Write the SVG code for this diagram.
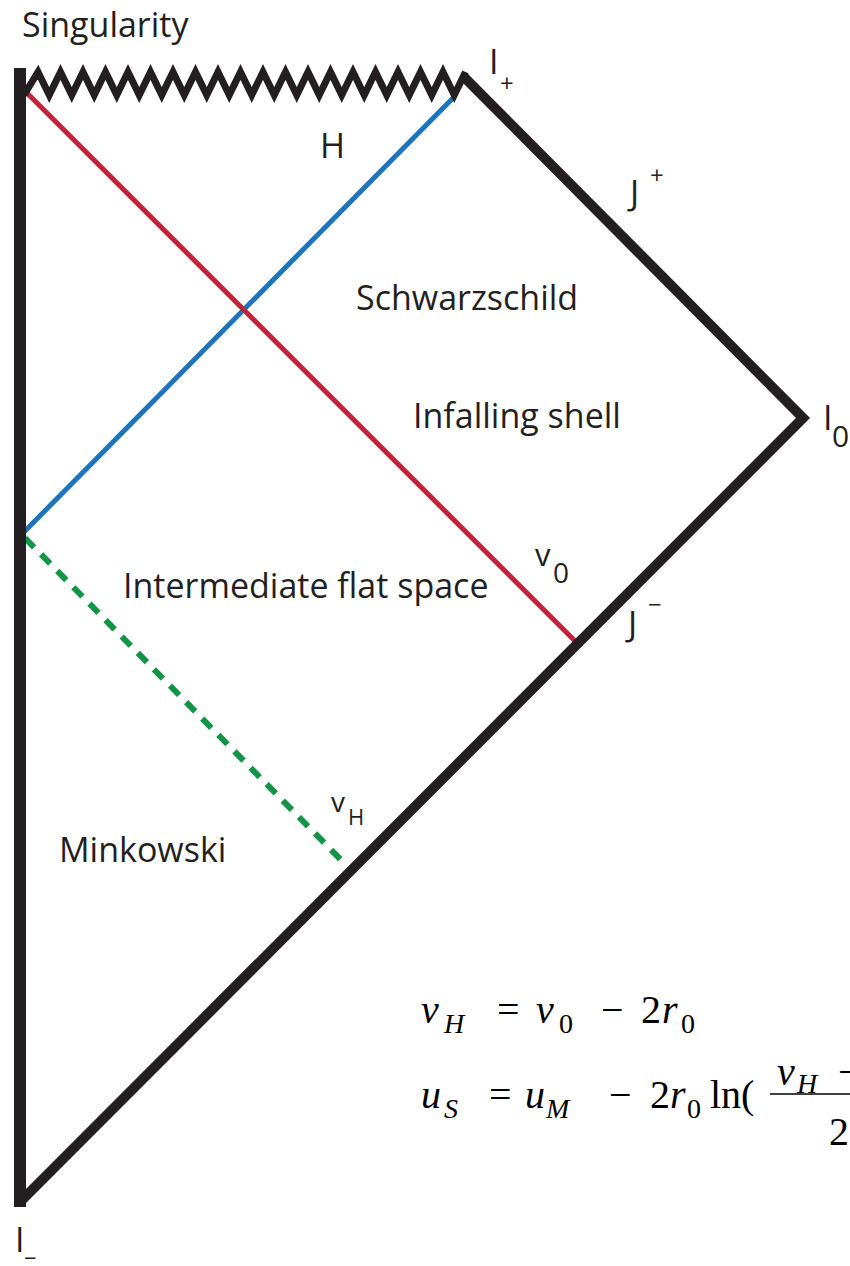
<svg xmlns="http://www.w3.org/2000/svg" width="850" height="1266" viewBox="0 0 850 1266">
<style>
.lbl{font-family:"Open Sans","Liberation Sans",sans-serif;font-size:34px;fill:#231f20}
.sub{font-family:"Open Sans","Liberation Sans",sans-serif;font-size:24px;fill:#231f20}
.m{font-family:"Liberation Serif","DejaVu Serif",serif;font-size:40px;fill:#000}
.mi{font-family:"Liberation Serif","DejaVu Serif",serif;font-size:40px;font-style:italic;fill:#000}
.ms{font-family:"Liberation Serif","DejaVu Serif",serif;font-size:28px;fill:#000}
.msi{font-family:"Liberation Serif","DejaVu Serif",serif;font-size:28px;font-style:italic;fill:#000}
.bd{fill:none;stroke:#231f20;stroke-linejoin:miter}
</style>
<rect width="850" height="1266" fill="#fff"/>
<g id="connectors">
<line id="horizon" x1="24" y1="532" x2="453" y2="98" stroke="#1c75bc" stroke-width="5"/>
<line id="shell" x1="24" y1="90" x2="577" y2="643" stroke="#c1223b" stroke-width="5"/>
<line id="vH-line" x1="25" y1="538" x2="347" y2="866" stroke="#129447" stroke-width="6" stroke-dasharray="13,10"/>
</g>
<g id="boundary">
<line id="origin" class="bd" x1="20" y1="68" x2="20" y2="1207" stroke-width="12"/>
<path id="singularity" class="bd" stroke-width="7" d="M24,95 L38,72 L49.25,95 L60.5,72 L71.75,95 L83,72 L94.25,95 L105.5,72 L116.75,95 L128,72 L139.25,95 L150.5,72 L161.75,95 L173,72 L184.25,95 L195.5,72 L206.75,95 L218,72 L229.25,95 L240.5,72 L251.75,95 L263,72 L274.25,95 L285.5,72 L296.75,95 L308,72 L319.25,95 L330.5,72 L341.75,95 L353,72 L364.25,95 L375.5,72 L386.75,95 L398,72 L409.25,95 L420.5,72 L431.75,95 L443,72 L454.25,95 L465.5,72"/>
<path id="scri" class="bd" stroke-width="10" d="M463,76 L803,418 L20,1202"/>
</g>
<g id="labels">
<text class="lbl" x="22" y="37">Singularity</text>
<g id="I-plus"><text class="lbl" x="489" y="74">I</text><text class="sub" x="500" y="92">+</text></g>
<text id="H" class="lbl" x="320" y="158">H</text>
<g id="J-plus"><text class="lbl" x="630" y="205">J</text><text class="sub" x="650" y="184">+</text></g>
<text id="schwarzschild" class="lbl" x="356" y="310">Schwarzschild</text>
<text id="infalling" class="lbl" x="413" y="428">Infalling shell</text>
<g id="I-zero"><text class="lbl" x="823" y="430">I</text><text class="lbl" style="font-size:30px" x="832" y="447">0</text></g>
<g id="v0"><text class="lbl" style="font-size:31px" x="535" y="566">v</text><text class="lbl" style="font-size:28px" x="553" y="583">0</text></g>
<text id="intermediate" class="lbl" x="123" y="598">Intermediate flat space</text>
<g id="J-minus"><text class="lbl" x="628" y="636">J</text><text class="sub" x="648" y="613">−</text></g>
<g id="vH"><text class="lbl" style="font-size:28px" x="331" y="812">v</text><text class="sub" style="font-size:22px" x="348" y="825">H</text></g>
<text id="minkowski" class="lbl" x="59" y="862">Minkowski</text>
<g id="I-minus"><text class="lbl" x="15" y="1252">I</text><text class="sub" style="font-size:22px" x="24" y="1266">−</text></g>
</g>
<g id="equations">
<text class="mi" x="421" y="1023">v</text><text class="msi" x="444" y="1033">H</text>
<text class="m" x="497" y="1023">=</text>
<text class="mi" x="536" y="1023">v</text><text class="ms" x="559" y="1033">0</text>
<text class="m" x="601" y="1023">−</text>
<text class="m" x="641" y="1023">2</text><text class="mi" x="662" y="1023">r</text><text class="ms" x="681" y="1033">0</text>

<text class="mi" x="421" y="1108">u</text><text class="msi" x="444" y="1118">S</text>
<text class="m" x="489" y="1108">=</text>
<text class="mi" x="525" y="1108">u</text><text class="msi" x="546" y="1118">M</text>
<text class="m" x="609" y="1108">−</text>
<text class="m" x="650" y="1108">2</text><text class="mi" x="670" y="1108">r</text><text class="ms" x="687" y="1118">0</text>
<text class="m" x="710" y="1108">ln(</text>
<line x1="770" y1="1094" x2="850" y2="1094" stroke="#000" stroke-width="1.5"/>
<text class="mi" x="777" y="1085">v</text><text class="msi" x="797" y="1093">H</text>
<text class="m" x="838" y="1085">−</text>
<text class="m" x="829" y="1145">2</text>
</g>
</svg>
